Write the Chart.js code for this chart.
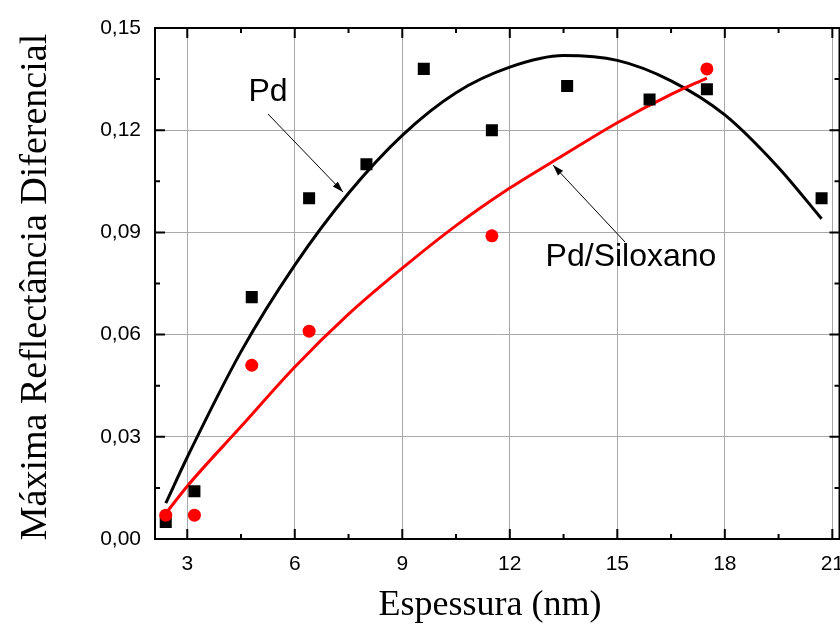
<!DOCTYPE html>
<html>
<head>
<meta charset="utf-8">
<script src="https://cdn.jsdelivr.net/npm/chart.js@4.4.0/dist/chart.umd.min.js"></script>
<style>
  html, body { margin: 0; padding: 0; background: #fff; overflow: hidden; }
  #wrap { width: 848px; height: 628px; position: relative; }
</style>
</head>
<body>
<div id="wrap"><canvas id="chart"></canvas></div>
<script>
// measured points
const pdX = [2.4, 3.2, 4.8, 6.4, 8.0, 9.6, 11.5, 13.6, 15.9, 17.5, 20.7];
const pdY = [0.005, 0.014, 0.071, 0.100, 0.110, 0.138, 0.120, 0.133, 0.129, 0.132, 0.100];
const silX = [2.4, 3.2, 4.8, 6.4, 11.5, 17.5];
const silY = [0.007, 0.007, 0.051, 0.061, 0.089, 0.138];

// fitted curves
const pdFitX = [2.4, 3, 4.5, 6, 7.5, 9, 10.5, 12, 13.5, 15, 16.5, 18, 19.5, 20.7];
const pdFitY = [0.0105, 0.024, 0.055, 0.0804, 0.1015, 0.1185, 0.131, 0.1385, 0.1419, 0.1405, 0.1345, 0.1245, 0.109, 0.094];
const silFitX = [2.4, 3, 4.5, 6, 7.5, 9, 10.5, 12, 13.5, 15, 16.5, 17.5];
const silFitY = [0.0075, 0.0155, 0.033, 0.0505, 0.066, 0.0795, 0.092, 0.103, 0.1127, 0.1222, 0.1305, 0.1353];

const xTicks = [3, 6, 9, 12, 15, 18, 21];
const yTicks = [0, 0.03, 0.06, 0.09, 0.12, 0.15];

const xTitle = "Espessura (nm)";
const yTitle = "Máxima Reflectância Diferencial";

function pts(xs, ys) {
  return xs.map((x, i) => ({ x: x, y: ys[i] }));
}

function arrow(ctx, x1, y1, x2, y2) {
  ctx.beginPath();
  ctx.moveTo(x1, y1);
  ctx.lineTo(x2, y2);
  ctx.stroke();
  const a = Math.atan2(y2 - y1, x2 - x1);
  const len = 11, w = 3.5;
  ctx.beginPath();
  ctx.moveTo(x2, y2);
  ctx.lineTo(x2 - len * Math.cos(a) + w * Math.sin(a), y2 - len * Math.sin(a) - w * Math.cos(a));
  ctx.lineTo(x2 - len * Math.cos(a) - w * Math.sin(a), y2 - len * Math.sin(a) + w * Math.cos(a));
  ctx.closePath();
  ctx.fill();
}

// frame, inward ticks, tick labels, titles, annotations
const decor = {
  id: "decor",
  afterDraw(chart) {
    const ctx = chart.ctx;
    const a = chart.chartArea;
    const xs = chart.scales.x, ys = chart.scales.y;
    ctx.save();
    ctx.strokeStyle = "#000";
    ctx.fillStyle = "#000";

    ctx.lineWidth = 2;
    ctx.strokeRect(a.left, a.top, a.right - a.left, a.bottom - a.top);

    // x ticks
    for (let i = 0; i < xTicks.length; i++) {
      const px = xs.getPixelForValue(xTicks[i]);
      ctx.beginPath();
      ctx.moveTo(px, a.bottom); ctx.lineTo(px, a.bottom - 10);
      ctx.moveTo(px, a.top); ctx.lineTo(px, a.top + 10);
      ctx.stroke();
      const mv = xTicks[i] + 1.5;
      if (mv < xs.max) {
        const mx = xs.getPixelForValue(mv);
        ctx.beginPath();
        ctx.moveTo(mx, a.bottom); ctx.lineTo(mx, a.bottom - 5);
        ctx.moveTo(mx, a.top); ctx.lineTo(mx, a.top + 5);
        ctx.stroke();
      }
    }
    // y ticks
    for (let i = 0; i < yTicks.length; i++) {
      const py = ys.getPixelForValue(yTicks[i]);
      ctx.beginPath();
      ctx.moveTo(a.left, py); ctx.lineTo(a.left + 10, py);
      ctx.moveTo(a.right, py); ctx.lineTo(a.right - 10, py);
      ctx.stroke();
      const mv = yTicks[i] + 0.015;
      if (mv < ys.max) {
        const my = ys.getPixelForValue(mv);
        ctx.beginPath();
        ctx.moveTo(a.left, my); ctx.lineTo(a.left + 5, my);
        ctx.moveTo(a.right, my); ctx.lineTo(a.right - 5, my);
        ctx.stroke();
      }
    }

    // tick labels
    ctx.font = "21px 'Liberation Sans', Arial, sans-serif";
    ctx.textAlign = "center";
    ctx.textBaseline = "middle";
    xTicks.forEach(v => ctx.fillText(String(v), xs.getPixelForValue(v), 564));
    ctx.textAlign = "right";
    yTicks.forEach(v => ctx.fillText(v.toFixed(2).replace(".", ","), 141, ys.getPixelForValue(v)));

    // titles
    ctx.font = "36px 'Liberation Serif', 'Times New Roman', serif";
    ctx.textAlign = "center";
    ctx.fillText(xTitle, 490, 606);
    ctx.save();
    ctx.translate(36, 287);
    ctx.rotate(-Math.PI / 2);
    ctx.font = "38px 'Liberation Serif', 'Times New Roman', serif";
    ctx.fillText(yTitle, 0, 0);
    ctx.restore();

    // annotations
    ctx.font = "32px 'Liberation Sans', Arial, sans-serif";
    ctx.fillText("Pd", 268, 92);
    ctx.fillText("Pd/Siloxano", 631, 257);
    ctx.lineWidth = 1;
    arrow(ctx, 268, 114, 343, 192);
    arrow(ctx, 625, 242, 553, 165);
    ctx.restore();
  }
};

new Chart(document.getElementById("chart"), {
  type: "scatter",
  data: {
    datasets: [
      {
        label: "Pd/Siloxano",
        data: pts(silX, silY),
        backgroundColor: "#ff0000",
        borderColor: "#ff0000",
        pointStyle: "circle",
        pointRadius: 6.5,
        borderWidth: 0,
        order: 1
      },
      {
        label: "Pd",
        data: pts(pdX, pdY),
        backgroundColor: "#000",
        borderColor: "#000",
        pointStyle: "rect",
        pointRadius: 8.5,
        borderWidth: 0,
        order: 2
      },
      {
        label: "Pd/Siloxano fit",
        type: "line",
        data: pts(silFitX, silFitY),
        borderColor: "#ff0000",
        borderWidth: 3,
        pointRadius: 0,
        cubicInterpolationMode: "monotone",
        fill: false,
        order: 3
      },
      {
        label: "Pd fit",
        type: "line",
        data: pts(pdFitX, pdFitY),
        borderColor: "#000",
        borderWidth: 3,
        pointRadius: 0,
        cubicInterpolationMode: "monotone",
        fill: false,
        order: 4
      }
    ]
  },
  options: {
    responsive: true,
    maintainAspectRatio: false,
    animation: false,
    layout: { padding: { left: 155, right: 2, top: 28, bottom: 89 } },
    plugins: { legend: { display: false }, tooltip: { enabled: false } },
    scales: {
      x: {
        type: "linear",
        min: 2.1,
        max: 21.2,
        afterBuildTicks: s => { s.ticks = xTicks.map(v => ({ value: v })); },
        grid: { color: "#a8a8a8", lineWidth: 1, drawTicks: false },
        border: { display: false },
        ticks: { display: false }
      },
      y: {
        min: 0,
        max: 0.15,
        afterBuildTicks: s => { s.ticks = yTicks.map(v => ({ value: v })); },
        grid: { color: "#a8a8a8", lineWidth: 1, drawTicks: false },
        border: { display: false },
        ticks: { display: false }
      }
    }
  },
  plugins: [decor]
});
</script>
</body>
</html>
